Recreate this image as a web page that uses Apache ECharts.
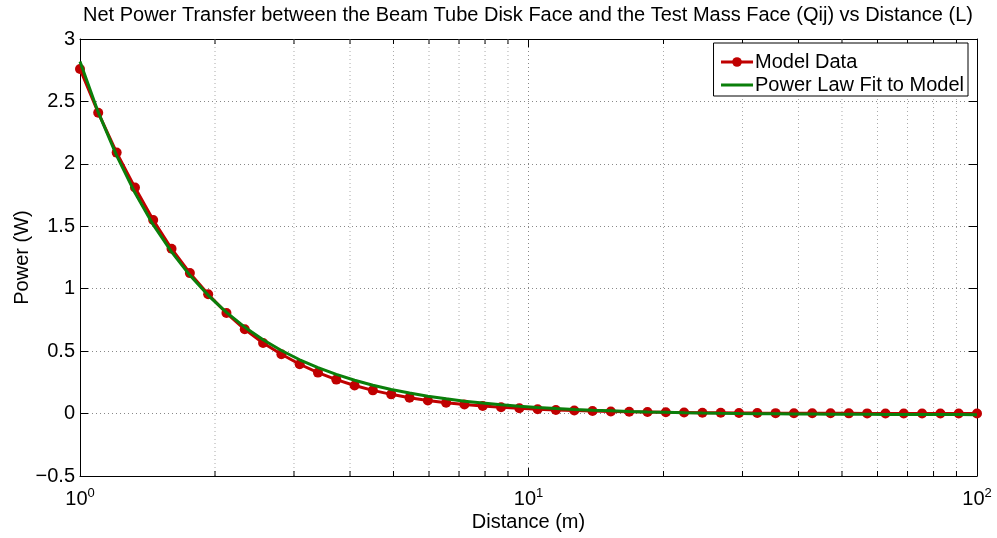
<!DOCTYPE html>
<html>
<head>
<meta charset="utf-8">
<script src="https://cdn.jsdelivr.net/npm/echarts@6/dist/echarts.min.js"></script>
<style>
html,body{margin:0;padding:0;background:#fff;}
#chart{width:997px;height:538px;}
</style>
</head>
<body>
<div id="chart"></div>
<script>
// Distance (m), log-spaced samples
var distances = [1.000,1.098,1.207,1.326,1.456,1.600,1.758,1.931,2.121,2.330,
  2.560,2.812,3.089,3.393,3.728,4.095,4.498,4.942,5.429,5.964,
  6.551,7.197,7.906,8.685,9.541,10.48,11.51,12.65,13.89,15.26,
  16.77,18.42,20.24,22.23,24.42,26.83,29.47,32.37,35.56,39.07,
  42.92,47.15,51.79,56.90,62.51,68.66,75.43,82.86,91.03,100.0];
// Model Data (W)
var modelPower = [2.76,2.41,2.09,1.81,1.55,1.32,1.125,0.955,0.805,0.675,
  0.565,0.475,0.395,0.328,0.272,0.225,0.186,0.154,0.127,0.105,
  0.087,0.072,0.060,0.050,0.042,0.035,0.029,0.024,0.020,0.017,
  0.014,0.012,0.010,0.0085,0.007,0.006,0.005,0.004,0.0035,0.003,
  0.0025,0.002,0.0017,0.0014,0.0012,0.001,0.0008,0.0007,0.0006,0.0005];
// Power Law Fit to Model (W)
var fitPower = [2.820,2.414,2.066,1.768,1.513,1.295,1.107,0.947,0.810,0.692,
  0.591,0.505,0.431,0.368,0.314,0.267,0.227,0.193,0.164,0.139,
  0.118,0.099,0.084,0.070,0.059,0.049,0.040,0.033,0.027,0.022,
  0.017,0.013,0.0099,0.0071,0.0046,0.0025,0.0007,-0.0008,-0.0021,-0.0033,
  -0.0042,-0.0050,-0.0058,-0.0064,-0.0069,-0.0073,-0.0077,-0.0080,-0.0083,-0.0086];
// Minor log gridline positions
var xMinorTicks = [2,3,4,5,6,7,8,9,20,30,40,50,60,70,80,90];
var xMajorLabels = ['10{s|0}','10{s|1}','10{s|2}'];
var yTicks = {min:-0.5, max:3, interval:0.5};

var titleText = 'Net Power Transfer between the Beam Tube Disk Face and the Test Mass Face (Qij) vs Distance (L)';
var FONT = 'Liberation Sans, Arial, sans-serif';
var FS = 20;

var modelData = distances.map(function(d,i){return [d, modelPower[i]];});
var fitData = distances.map(function(d,i){return [d, fitPower[i]];});
var minorData = xMinorTicks.map(function(v){return [v, 0];});

var chart = echarts.init(document.getElementById('chart'), null, {renderer:'canvas'});
var labelMap = {1:xMajorLabels[0], 10:xMajorLabels[1], 100:xMajorLabels[2]};

chart.setOption({
  backgroundColor:'#fff',
  animation:false,
  title:{
    text:titleText, left:78, top:0,
    textStyle:{fontFamily:FONT, fontSize:FS, fontWeight:'normal', color:'#000'}
  },
  legend:{
    orient:'vertical', right:29, top:43,
    backgroundColor:'#fff', borderColor:'#000', borderWidth:1,
    padding:[9,4,1,6], itemGap:3, itemWidth:32, itemHeight:12,
    lineStyle:{width:3},
    textStyle:{fontFamily:FONT, fontSize:FS, color:'#000', padding:[0,0,0,-3]},
    data:[{name:'Model Data'},
          {name:'Power Law Fit to Model', itemStyle:{opacity:0}}]
  },
  grid:{left:80, right:20, top:39, bottom:62, containLabel:false, outerBoundsMode:'none'},
  xAxis:[{
    type:'log', logBase:10, min:1, max:100,
    name:'Distance (m)', nameLocation:'middle', nameGap:36, nameMoveOverlap:false,
    nameTextStyle:{fontFamily:FONT, fontSize:FS, color:'#000'},
    axisLine:{show:true, onZero:false, lineStyle:{color:'#000', width:1}},
    axisTick:{show:true, inside:true, length:8, lineStyle:{color:'#000'}},
    axisLabel:{
      margin:11, color:'#000', fontFamily:FONT, fontSize:FS,
      formatter:function(v){ return labelMap[Math.round(v)] || ''; },
      rich:{s:{fontSize:13, verticalAlign:'top', padding:[0,0,12,0], fontFamily:FONT, color:'#000'}}
    },
    splitLine:{show:true, lineStyle:{color:'#888', type:[1,3], width:1}}
  },{
    type:'log', logBase:10, min:1, max:100, position:'top',
    axisLine:{show:true, onZero:false, lineStyle:{color:'#000', width:1}},
    axisTick:{show:true, inside:true, length:8, lineStyle:{color:'#000'}},
    axisLabel:{show:false}, splitLine:{show:false}
  }],
  yAxis:[{
    type:'value', min:yTicks.min, max:yTicks.max, interval:yTicks.interval,
    name:'Power (W)', nameLocation:'middle', nameGap:48, nameMoveOverlap:false,
    nameTextStyle:{fontFamily:FONT, fontSize:FS, color:'#000'},
    axisLine:{show:true, onZero:false, lineStyle:{color:'#000', width:1}},
    axisTick:{show:true, inside:true, length:8, lineStyle:{color:'#000'}},
    axisLabel:{margin:5, color:'#000', fontFamily:FONT, fontSize:FS,
      formatter:function(v){ return String(v).replace('-', '\u2212'); }},
    splitLine:{show:true, lineStyle:{color:'#888', type:[1,3], width:1}}
  },{
    type:'value', min:yTicks.min, max:yTicks.max, interval:yTicks.interval, position:'right',
    axisLine:{show:true, onZero:false, lineStyle:{color:'#000', width:1}},
    axisTick:{show:true, inside:true, length:8, lineStyle:{color:'#000'}},
    axisLabel:{show:false}, splitLine:{show:false}
  }],
  series:[{
    type:'custom', name:'minorGrid', silent:true, z:1,
    xAxisIndex:0, yAxisIndex:0,
    data:minorData,
    encode:{x:0, y:1},
    renderItem:function(params, api){
      var x = api.value(0);
      var top = api.coord([x, yTicks.max]);
      var bot = api.coord([x, yTicks.min]);
      return {type:'group', children:[
        {type:'line', shape:{x1:top[0], y1:top[1], x2:bot[0], y2:bot[1]},
          style:{stroke:'#aaa', lineWidth:1, lineDash:[1,3]}},
        {type:'line', shape:{x1:bot[0], y1:bot[1], x2:bot[0], y2:bot[1]-5},
          style:{stroke:'#000', lineWidth:1}},
        {type:'line', shape:{x1:top[0], y1:top[1], x2:top[0], y2:top[1]+5},
          style:{stroke:'#000', lineWidth:1}}
      ]};
    }
  },{
    type:'line', name:'Model Data', data:modelData, z:3,
    symbol:'circle', symbolSize:10, showSymbol:true,
    lineStyle:{color:'#c00000', width:3},
    itemStyle:{color:'#c00000'}
  },{
    type:'line', name:'Power Law Fit to Model', data:fitData, z:4,
    symbol:'none', smooth:false,
    lineStyle:{color:'#0a7f0a', width:3},
    itemStyle:{color:'#0a7f0a'}
  }]
});
</script>
</body>
</html>
